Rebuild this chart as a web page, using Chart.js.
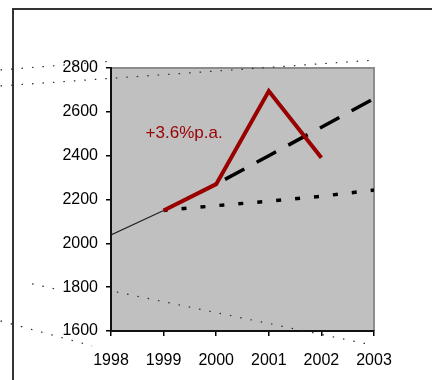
<!DOCTYPE html>
<html>
<head>
<meta charset="utf-8">
<style>
  html, body { margin: 0; padding: 0; background: #fff; }
  canvas { display: block; }
</style>
<script src="https://cdn.jsdelivr.net/npm/chart.js@4.4.1/dist/chart.umd.min.js"></script>
</head>
<body>
<canvas id="c" width="432" height="380"></canvas>
<script>
// Axis ticks
const years = [1998, 1999, 2000, 2001, 2002, 2003];
const yTicks = [1600, 1800, 2000, 2200, 2400, 2600, 2800];

// Series
const pastYears = [1998, 1999];
const pastValues = [2038, 2150];
const actualYears = [1999, 2000, 2001, 2002];
const actualValues = [2150, 2270, 2695, 2390];
const trendYears = [2000, 2001, 2002, 2003];
const trendValues = [2270, 2400, 2530, 2660];
const flatYears = [1999, 2000, 2001, 2002, 2003];
const flatValues = [2150, 2172, 2192, 2215, 2243];

// Growth note and where it sits (year, value)
const growthLabel = '+3.6%p.a.';
const growthLabelAt = [1999.39, 2500];

// Faint dotted guide lines that run past the plot, as [year, value] ends
const guideA = [[1995.9, 2718], [2003.0, 2836]];
const guideB = [[1995.9, 2791], [1998.08, 2832]];
const guideC1 = [[1996.5, 1815], [1997.03, 1787]];
const guideC2 = [[1998.11, 1778], [2002.87, 1541]];
const guideD = [[1995.9, 1646], [1997.64, 1532]];

const pts = (xs, ys) => xs.map((x, i) => ({ x, y: ys[i] }));
const pairPts = arr => arr.map(p => ({ x: p[0], y: p[1] }));

const FONT = "'Liberation Sans', Arial, sans-serif";

const guide = (data) => ({
  data: pairPts(data),
  borderColor: '#2a2a2a',
  borderWidth: 1.2,
  borderDash: [1.5, 9],
  pointRadius: 0,
  fill: false,
  clip: false,
  order: 10
});

const framePlugin = {
  id: 'frame',
  beforeDraw(chart) {
    const { ctx, chartArea: a, width, height } = chart;
    ctx.save();
    ctx.fillStyle = '#fff';
    ctx.fillRect(0, 0, width, height);
    // outer frame
    ctx.strokeStyle = '#333';
    ctx.lineWidth = 2;
    ctx.beginPath();
    ctx.moveTo(13, height);
    ctx.lineTo(13, 9);
    ctx.lineTo(width, 9);
    ctx.stroke();
    // plot area
    ctx.fillStyle = '#c0c0c0';
    ctx.fillRect(a.left, a.top, a.right - a.left, a.bottom - a.top);
    ctx.strokeStyle = '#8c8c8c';
    ctx.lineWidth = 2;
    ctx.beginPath();
    ctx.moveTo(a.left, a.top);
    ctx.lineTo(a.right, a.top);
    ctx.lineTo(a.right, a.bottom);
    ctx.stroke();
    ctx.restore();
  }
};

const notePlugin = {
  id: 'note',
  afterDatasetsDraw(chart) {
    const { ctx, scales } = chart;
    const x = scales.x.getPixelForValue(growthLabelAt[0]);
    const y = scales.y.getPixelForValue(growthLabelAt[1]);
    ctx.save();
    ctx.fillStyle = '#990000';
    ctx.font = '17px ' + FONT;
    ctx.textAlign = 'center';
    ctx.textBaseline = 'middle';
    ctx.fillText(growthLabel, x, y);
    ctx.restore();
  }
};

new Chart(document.getElementById('c'), {
  type: 'line',
  data: {
    datasets: [
      {
        data: pts(actualYears, actualValues),
        borderColor: '#990000',
        borderWidth: 4,
        borderJoinStyle: 'miter',
        pointRadius: 0,
        fill: false,
        order: 1
      },
      {
        data: pts(trendYears, trendValues),
        borderColor: '#000',
        borderWidth: 3.5,
        borderDash: [22, 14],
        borderDashOffset: 26,
        pointRadius: 0,
        fill: false,
        order: 2
      },
      {
        data: pts(flatYears, flatValues),
        borderColor: '#000',
        borderWidth: 3.5,
        borderDash: [5, 14],
        borderDashOffset: 1,
        pointRadius: 0,
        fill: false,
        order: 3
      },
      {
        data: pts(pastYears, pastValues),
        borderColor: '#222',
        borderWidth: 1.2,
        pointRadius: 0,
        fill: false,
        order: 4
      },
      guide(guideA),
      guide(guideB),
      guide(guideC1),
      guide(guideC2),
      guide(guideD)
    ]
  },
  options: {
    responsive: false,
    animation: false,
    events: [],
    layout: { padding: { left: 0, top: 68, right: 58, bottom: 4 } },
    plugins: { legend: { display: false }, tooltip: { enabled: false } },
    scales: {
      x: {
        type: 'linear',
        min: 1998,
        max: 2003,
        afterFit(s) { s.height = 45; },
        afterBuildTicks(s) { s.ticks = years.map(v => ({ value: v })); },
        ticks: {
          callback: v => String(v),
          color: '#000',
          font: { family: FONT, size: 16 },
          padding: 15,
          maxRotation: 0,
          autoSkip: false
        },
        grid: { drawOnChartArea: false, tickLength: 5, color: '#000', lineWidth: 1.5 },
        border: { color: '#111', width: 2 }
      },
      y: {
        type: 'linear',
        min: 1600,
        max: 2800,
        afterFit(s) { s.width = 111; },
        afterBuildTicks(s) { s.ticks = yTicks.map(v => ({ value: v })); },
        ticks: {
          callback: v => String(v),
          color: '#000',
          font: { family: FONT, size: 16 },
          padding: 8,
          autoSkip: false
        },
        grid: { drawOnChartArea: false, tickLength: 5, color: '#000', lineWidth: 1.5 },
        border: { color: '#111', width: 2 }
      }
    }
  },
  plugins: [framePlugin, notePlugin]
});
</script>
</body>
</html>
